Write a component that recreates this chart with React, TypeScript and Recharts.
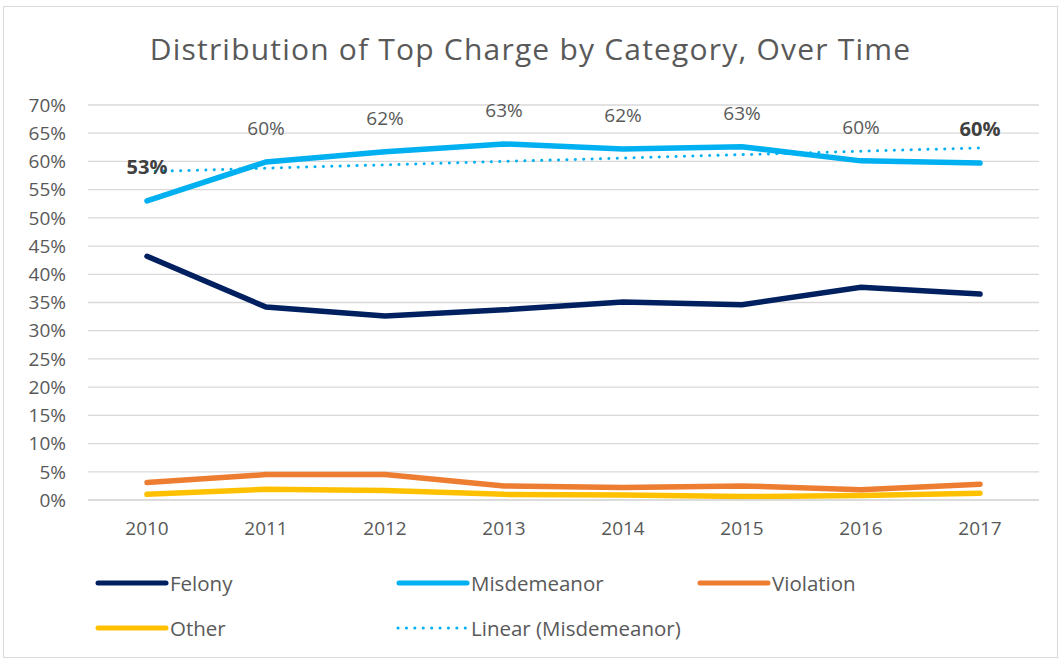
import React from "react";
import { LineChart, Line, XAxis, YAxis, CartesianGrid, LabelList } from "recharts";

const years = ["2010", "2011", "2012", "2013", "2014", "2015", "2016", "2017"];
const felony = [43.2, 34.2, 32.6, 33.7, 35.1, 34.6, 37.7, 36.5];
const misdemeanor = [53.0, 59.9, 61.7, 63.1, 62.2, 62.6, 60.1, 59.7];
const violation = [3.1, 4.5, 4.5, 2.5, 2.2, 2.5, 1.8, 2.8];
const other = [1.0, 1.9, 1.7, 1.0, 0.9, 0.6, 0.8, 1.2];
const trend = [58.2, 58.8, 59.4, 60.0, 60.6, 61.2, 61.8, 62.4];
const misLabels = ["53%", "60%", "62%", "63%", "62%", "63%", "60%", "60%"];
const boldLabel = [true, false, false, false, false, false, false, true];
const yTicks = [0, 5, 10, 15, 20, 25, 30, 35, 40, 45, 50, 55, 60, 65, 70];

const data = years.map((y, i) => ({
  year: y,
  felony: felony[i],
  misdemeanor: misdemeanor[i],
  violation: violation[i],
  other: other[i],
  trend: trend[i],
  label: misLabels[i],
}));

const FONT = "'Open Sans', 'Liberation Sans', sans-serif";
const TXT = "#595959";

const MisLabel = (props: any) => {
  const { x, y, index } = props;
  const bold = boldLabel[index];
  return (
    <text
      x={x}
      y={y - 32}
      textAnchor="middle"
      dominantBaseline="middle"
      fontFamily={FONT}
      fontSize={bold ? 20 : 19}
      fontWeight={bold ? 700 : 400}
      fill={bold ? "#404040" : TXT}
    >
      {misLabels[index]}
    </text>
  );
};

const legendItems = [
  { name: "Felony", color: "#002060", dotted: false, col: 0, row: 0 },
  { name: "Misdemeanor", color: "#00B0F0", dotted: false, col: 1, row: 0 },
  { name: "Violation", color: "#ED7D31", dotted: false, col: 2, row: 0 },
  { name: "Other", color: "#FFC000", dotted: false, col: 0, row: 1 },
  { name: "Linear (Misdemeanor)", color: "#00B0F0", dotted: true, col: 1, row: 1 },
];

export default function App() {
  return (
    <div
      style={{
        position: "absolute",
        left: 3,
        top: 6,
        width: 1053,
        height: 650,
        border: "1px solid #D9D9D9",
        background: "#fff",
        fontFamily: FONT,
      }}
    >
      <div
        style={{
          position: "absolute",
          left: 0,
          width: 1053,
          top: 23,
          textAlign: "center",
          fontSize: 30,
          letterSpacing: 1.2,
          color: TXT,
          lineHeight: "38px",
        }}
      >
        Distribution of Top Charge by Category, Over Time
      </div>
      <LineChart
        width={1053}
        height={650}
        data={data}
        margin={{ top: 98, right: 18, bottom: 127, left: 0 }}
      >
        <CartesianGrid vertical={false} stroke="#D9D9D9" strokeWidth={1.3} />
        <XAxis
          dataKey="year"
          padding={{ left: 59, right: 59 }}
          axisLine={{ stroke: "#D9D9D9", strokeWidth: 1.3 }}
          tickLine={false}
          tickSize={0}
          tickMargin={22}
          height={30}
          tick={{ fill: TXT, fontSize: 19, fontFamily: FONT }}
          interval={0}
        />
        <YAxis
          domain={[0, 70]}
          ticks={yTicks}
          width={84}
          axisLine={false}
          tickLine={false}
          tickSize={0}
          tickMargin={22}
          tickFormatter={(v: number) => `${v}%`}
          tick={{ fill: TXT, fontSize: 19, fontFamily: FONT }}
          interval={0}
        />
        <Line
          dataKey="other"
          stroke="#FFC000"
          strokeWidth={5.5}
          dot={false}
          strokeLinecap="round"
          isAnimationActive={false}
        />
        <Line
          dataKey="violation"
          stroke="#ED7D31"
          strokeWidth={5.5}
          dot={false}
          strokeLinecap="round"
          isAnimationActive={false}
        />
        <Line
          dataKey="felony"
          stroke="#002060"
          strokeWidth={5.5}
          dot={false}
          strokeLinecap="round"
          isAnimationActive={false}
        />
        <Line
          dataKey="misdemeanor"
          stroke="#00B0F0"
          strokeWidth={5.5}
          dot={false}
          strokeLinecap="round"
          isAnimationActive={false}
        >
          <LabelList dataKey="label" content={<MisLabel />} />
        </Line>
        <Line
          dataKey="trend"
          stroke="#00B0F0"
          strokeWidth={3}
          strokeDasharray="0.1 8.3"
          strokeLinecap="round"
          dot={false}
          isAnimationActive={false}
        />
      </LineChart>
      {legendItems.map((it) => (
        <div
          key={it.name}
          style={{
            position: "absolute",
            left: 91 + it.col * 301,
            top: 562 + it.row * 45,
            height: 28,
            display: "flex",
            alignItems: "center",
            fontSize: 20.5,
            color: TXT,
            whiteSpace: "nowrap",
          }}
        >
          <svg width={74} height={10} style={{ marginRight: 1 }}>
            {it.dotted ? (
              <line
                x1={2}
                y1={5}
                x2={72}
                y2={5}
                stroke={it.color}
                strokeWidth={3}
                strokeDasharray="0.1 8.3"
                strokeLinecap="round"
              />
            ) : (
              <line
                x1={3}
                y1={5}
                x2={71}
                y2={5}
                stroke={it.color}
                strokeWidth={5}
                strokeLinecap="round"
              />
            )}
          </svg>
          {it.name}
        </div>
      ))}
    </div>
  );
}
